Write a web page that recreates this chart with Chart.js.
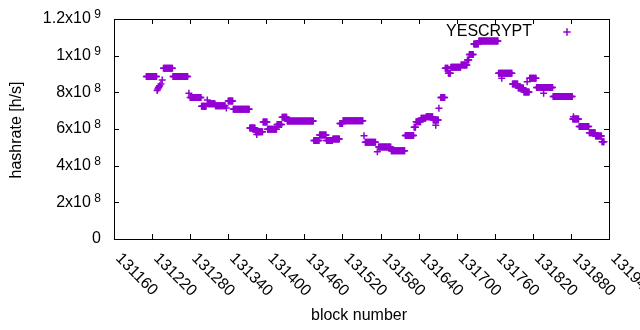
<!DOCTYPE html>
<html lang="en">
<head>
<meta charset="UTF-8">
<title>YESCRYPT hashrate</title>
<script src="https://cdn.jsdelivr.net/npm/chart.js"></script>
<style>
  html, body { margin: 0; padding: 0; background: #fff; }
</style>
</head>
<body>
<canvas id="hashChart" width="640" height="330"></canvas>
<script>
// runs of consecutive blocks sharing one hashrate estimate (rate in 1e8 h/s)
const runFirst = [131211, 131228, 131229, 131230, 131231, 131232, 131234, 131236, 131238, 131253,
                  131278, 131280, 131298, 131307, 131308, 131320, 131337, 131340, 131348, 131374,
                  131383, 131385, 131395, 131402, 131417, 131425, 131433, 131475, 131484, 131495,
                  131505, 131516, 131521, 131554, 131556, 131575, 131577, 131597, 131619, 131633,
                  131636, 131644, 131652, 131663, 131667, 131672, 131675, 131682, 131687, 131691,
                  131707, 131717, 131720, 131727, 131735, 131766, 131771, 131788, 131797, 131806,
                  131811, 131815, 131826, 131837, 131852, 131883, 131884, 131893, 131909, 131919,
                  131929];
const runLast  = [131227, 131228, 131229, 131230, 131231, 131232, 131234, 131236, 131252, 131276,
                  131278, 131297, 131305, 131307, 131319, 131335, 131337, 131347, 131373, 131382,
                  131394, 131385, 131401, 131416, 131424, 131432, 131474, 131483, 131494, 131504,
                  131515, 131520, 131552, 131554, 131572, 131575, 131596, 131618, 131632, 131635,
                  131643, 131651, 131662, 131671, 131667, 131672, 131681, 131686, 131690, 131706,
                  131716, 131719, 131726, 131734, 131765, 131787, 131771, 131796, 131805, 131814,
                  131811, 131825, 131851, 131837, 131882, 131892, 131884, 131908, 131918, 131928,
                  131932];
const runRate  = [8.86, 8.10, 8.18, 8.25, 8.30, 8.36, 8.45, 8.67, 9.31, 8.86,
                  7.95, 7.72, 7.24, 7.58, 7.38, 7.27, 7.15, 7.53, 7.08, 6.05,
                  5.85, 5.70, 6.38, 5.98, 6.24, 6.64, 6.44, 5.37, 5.67, 5.37,
                  5.45, 6.30, 6.45, 5.63, 5.28, 4.76, 5.02, 4.81, 5.65, 6.10,
                  6.40, 6.58, 6.67, 6.49, 6.20, 7.13, 7.72, 9.31, 9.04, 9.37,
                  9.49, 9.76, 10.07, 10.64, 10.80, 9.04, 8.77, 8.46, 8.24, 8.02,
                  8.58, 8.77, 8.27, 7.95, 7.77, 6.55, 6.67, 6.14, 5.80, 5.62,
                  5.31];

const xTicks = [131160, 131220, 131280, 131340, 131400, 131460, 131520, 131580,
                131640, 131700, 131760, 131820, 131880, 131940];
const yTicks = [0, 2e8, 4e8, 6e8, 8e8, 1e9, 1.2e9];
const yMantissa = ['0', '2x10', '4x10', '6x10', '8x10', '1x10', '1.2x10'];
const yExponent = ['', '8', '8', '8', '8', '9', '9'];

const seriesName = 'YESCRYPT';
const purple = '#9400d3';
const bigFont = '16px "Liberation Sans", Arial, sans-serif';
const smallFont = '12px "Liberation Sans", Arial, sans-serif';

const points = [];
for (let i = 0; i < runFirst.length; i++) {
    for (let b = runFirst[i]; b <= runLast[i]; b++) {
        points.push({ x: b, y: runRate[i] * 1e8 });
    }
}

// gnuplot style border, inward ticks, labels and key
const gnuplotFrame = {
    id: 'gnuplotFrame',
    afterDatasetsDraw(chart) {
        const { ctx, chartArea: a, scales } = chart;
        const xs = scales.x, ys = scales.y;
        ctx.save();
        ctx.strokeStyle = '#000';
        ctx.lineWidth = 1;
        ctx.strokeRect(a.left + 0.5, a.top + 0.5, a.right - a.left, a.bottom - a.top);

        ctx.beginPath();
        xTicks.forEach(v => {
            const px = Math.round(xs.getPixelForValue(v)) + 0.5;
            ctx.moveTo(px, a.bottom); ctx.lineTo(px, a.bottom - 5);
            ctx.moveTo(px, a.top); ctx.lineTo(px, a.top + 5);
        });
        yTicks.forEach(v => {
            const py = Math.round(ys.getPixelForValue(v)) + 0.5;
            ctx.moveTo(a.left, py); ctx.lineTo(a.left + 5, py);
            ctx.moveTo(a.right, py); ctx.lineTo(a.right - 5, py);
        });
        ctx.stroke();

        ctx.fillStyle = '#000';
        ctx.font = bigFont;
        ctx.textAlign = 'left';
        ctx.textBaseline = 'middle';
        xTicks.forEach(v => {
            const px = xs.getPixelForValue(v);
            ctx.save();
            ctx.translate(px + 4, a.bottom + 17);
            ctx.rotate(Math.PI / 4);
            ctx.fillText(String(v), 0, 0);
            ctx.restore();
        });

        const labelRight = a.left - 13;
        yTicks.forEach((v, i) => {
            const py = ys.getPixelForValue(v);
            ctx.textAlign = 'right';
            if (yExponent[i]) {
                ctx.font = smallFont;
                const ew = ctx.measureText(yExponent[i]).width;
                ctx.fillText(yExponent[i], labelRight, py - 4);
                ctx.font = bigFont;
                ctx.fillText(yMantissa[i], labelRight - ew - 3.5, py);
            } else {
                ctx.font = bigFont;
                ctx.fillText(yMantissa[i], labelRight, py);
            }
        });

        ctx.font = bigFont;
        ctx.textAlign = 'center';
        ctx.fillText('block number', 359, 316);
        ctx.save();
        ctx.translate(17, 130);
        ctx.rotate(-Math.PI / 2);
        ctx.fillText('hashrate [h/s]', 0, 0);
        ctx.restore();

        // key
        ctx.textAlign = 'right';
        ctx.fillText(seriesName, 532, 32);
        ctx.strokeStyle = purple;
        ctx.lineWidth = 1.5;
        ctx.beginPath();
        ctx.moveTo(563.3, 32); ctx.lineTo(570.7, 32);
        ctx.moveTo(567, 28.3); ctx.lineTo(567, 35.7);
        ctx.stroke();
        ctx.restore();
    }
};

new Chart(document.getElementById('hashChart').getContext('2d'), {
    type: 'scatter',
    data: {
        datasets: [{
            label: seriesName,
            data: points,
            pointStyle: 'cross',
            pointRadius: 3.5,
            pointBorderWidth: 1.5,
            borderColor: purple,
            backgroundColor: purple,
            showLine: false
        }]
    },
    options: {
        responsive: false,
        animation: false,
        layout: { padding: { left: 114, right: 31, top: 19, bottom: 91 } },
        plugins: {
            legend: { display: false },
            tooltip: { enabled: false }
        },
        scales: {
            x: { type: 'linear', min: 131160, max: 131940, display: false },
            y: { type: 'linear', min: 0, max: 1.2e9, display: false }
        }
    },
    plugins: [gnuplotFrame]
});
</script>
</body>
</html>
